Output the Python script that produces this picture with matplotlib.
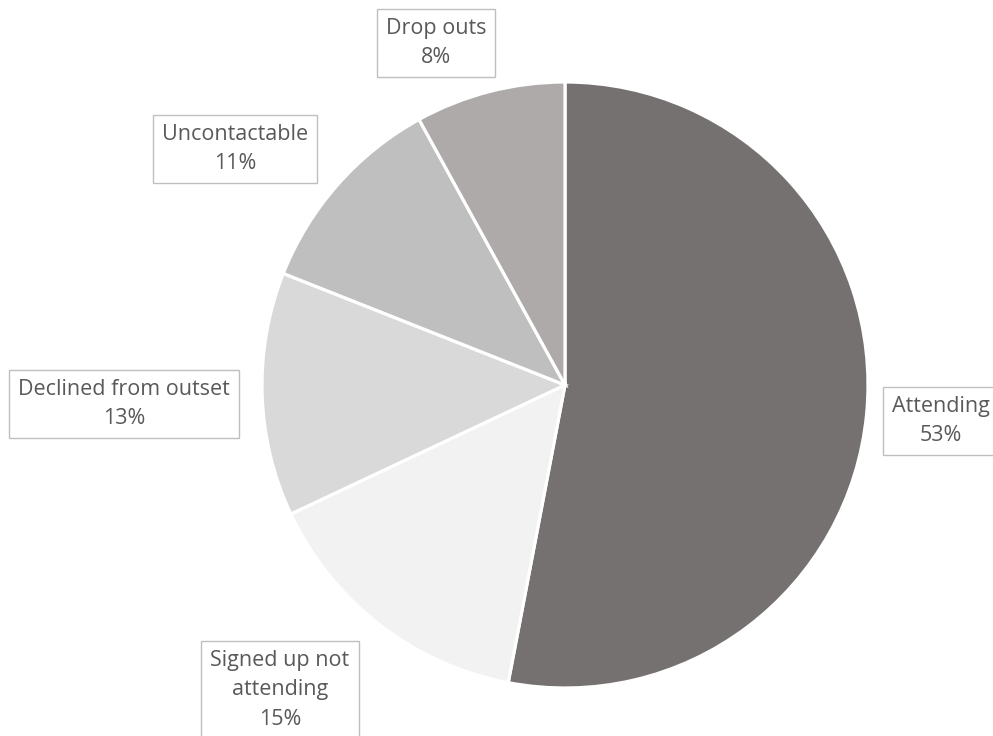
import matplotlib
matplotlib.use("Agg")
import matplotlib.pyplot as plt

categories = ["Attending", "Signed up not attending", "Declined from outset", "Uncontactable", "Drop outs"]
values = [53, 15, 13, 11, 8]
label_texts = ["Attending\n53%", "Signed up not\nattending\n15%", "Declined from outset\n13%", "Uncontactable\n11%", "Drop outs\n8%"]
colors = ["#767171", "#f2f2f2", "#d9d9d9", "#bfbfbf", "#aeaaaa"]

W, H = 993, 736
fig = plt.figure(figsize=(W / 100, H / 100), dpi=100)
ax = fig.add_axes([0, 0, 1, 1])

cx, cy, r = 565, 385, 303
ax.pie(values, colors=colors, startangle=90, counterclock=False,
       center=(cx, H - cy), radius=r,
       wedgeprops=dict(edgecolor="white", linewidth=2.3))
ax.set_xlim(0, W)
ax.set_ylim(0, H)
ax.axis("off")

# label centers in pixel coords (x, y from top)
label_pos = [(941, 421), (280, 690), (124, 404), (235, 149), (436, 43)]
for txt, (x, y) in zip(label_texts, label_pos):
    ax.text(x, H - y, txt, ha="center", va="center", fontsize=15.5,
            family="Open Sans", color="#595959", linespacing=1.55,
            bbox=dict(boxstyle="square,pad=0.42", facecolor="white",
                      edgecolor="#bfbfbf", linewidth=1))

fig.savefig("out.png", dpi=100)
